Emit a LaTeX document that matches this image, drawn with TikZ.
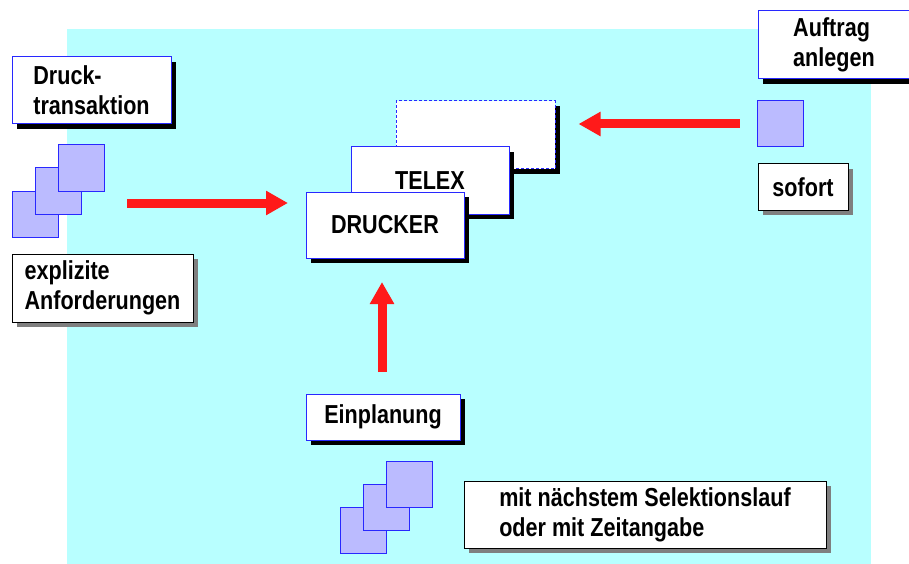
\documentclass[tikz,border=0pt]{standalone}
\usepackage{fontspec}
\setmainfont{Liberation Sans}[FakeStretch=0.83]
\usepackage{xcolor}
\usetikzlibrary{arrows.meta}
\usetikzlibrary{shadows}

\definecolor{bgcyan}{HTML}{B8FFFF}
\definecolor{boxblue}{HTML}{2828FF}
\definecolor{sheetfill}{HTML}{BBBBFF}
\definecolor{arrowred}{HTML}{FF1A1A}
\definecolor{shadowgrey}{HTML}{7F7F7F}

\begin{document}
\begin{tikzpicture}[x=1pt,y=-1pt,
    every node/.style={font=\bfseries\fontsize{26}{30}\selectfont, align=left, inner sep=0pt},
    bluebox/.style={draw=boxblue, fill=white, line width=1pt,
        drop shadow={shadow xshift=5pt, shadow yshift=-5pt, fill=black, opacity=1}},
    greybox/.style={draw=black, fill=white, line width=1pt,
        drop shadow={shadow xshift=5pt, shadow yshift=-5pt, fill=shadowgrey, opacity=1}},
    sheet/.style={draw=boxblue, fill=sheetfill, line width=1pt, minimum size=46pt},
    bigarrow/.style={draw=arrowred, line width=9pt, -{Triangle[length=22pt,width=23pt]}}]

    \clip (0,0) rectangle (909,564);

    %===========================
    % Background
    %===========================

    \fill[bgcyan] (67,29) rectangle (871,564);


    %===========================
    % Output devices
    %===========================
    \draw node (other) at (475.5,135) [bluebox, dash pattern=on 3pt off 2pt, minimum width=159pt, minimum height=68pt]{};
    \draw node (telex) at (430,180.5) [bluebox, minimum width=158pt, minimum height=67pt]{\raisebox{-4pt}{TELEX}};
    \draw node (drucker) at (385,225) [bluebox, minimum width=158pt, minimum height=66pt]{DRUCKER};


    %===========================
    % Left side
    %===========================
    \draw node (druck) at (91.5,90.5) [bluebox, minimum width=159pt, minimum height=67pt]{Druck-\\transaktion};
    \draw node (sheetA1) at (35,214) [sheet]{};
    \draw node (sheetA2) at (58,191) [sheet]{};
    \draw node (sheetA3) at (81,168) [sheet]{};
    \draw node (explizit) at (102.5,288) [greybox, minimum width=181pt, minimum height=68pt]{explizite\\Anforderungen};

    \coordinate (leftfrom) at (127,203);
    \coordinate (leftto) at (288,203);
    \draw[bigarrow] (leftfrom) -- (leftto);

    % Right side
    \draw node (auftrag) at (834,45) [bluebox, minimum width=152pt, minimum height=68pt]{Auftrag\\anlegen};
    \draw node (sheetB) at (780,124) [sheet]{};
    \draw node (sofort) at (803,187) [greybox, minimum width=90pt, minimum height=46pt]{sofort};
    \draw[bigarrow, shorten <=17pt, shorten >=23pt] (sheetB.west) -- (other.east |- sheetB.west);

    % Bottom
    \draw node (einplanung) at (383,417) [bluebox, minimum width=154pt, minimum height=46pt]{Einplanung};
    \draw node (sheetC1) at (363,530) [sheet]{};
    \draw node (sheetC2) at (386,507) [sheet]{};
    \draw node (sheetC3) at (409,484) [sheet]{};
    \draw node (zeit) at (645,514.5) [greybox, minimum width=362pt, minimum height=67pt]{mit n\"achstem Selektionslauf\\oder mit Zeitangabe};

    \coordinate (upfrom) at (382,372);
    \coordinate (upto) at (382,282);
    \draw[bigarrow] (upfrom) -- (upto);

\end{tikzpicture}
\end{document}
